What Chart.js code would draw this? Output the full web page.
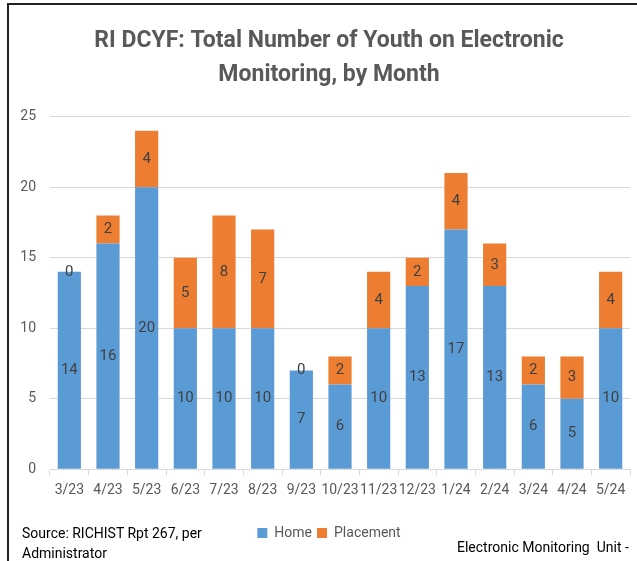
<!DOCTYPE html>
<html>
<head>
<meta charset="utf-8">
<script src="https://cdn.jsdelivr.net/npm/chart.js@4.4.0/dist/chart.umd.min.js"></script>
<style>
  html, body { margin: 0; padding: 0; background: #fff; }
  body { width: 637px; height: 561px; position: relative; overflow: hidden;
         font-family: Roboto, "Open Sans", sans-serif; color: #000; }
  #frame { position: absolute; left: 7px; top: 3px; width: 630px; height: 558px;
           border-left: 2px solid #222; border-top: 2px solid #222; box-sizing: border-box; }
  #wrap { position: absolute; left: 9px; top: 5px; width: 628px; height: 556px; }
  .note { position: absolute; font-size: 14px; line-height: 20px; color: #000; white-space: nowrap; }
</style>
</head>
<body>
<div id="frame"></div>
<div id="wrap"><canvas id="c"></canvas></div>
<div class="note" style="left:22px; top:523px;">Source: RICHIST Rpt 267, per<br>Administrator</div>
<div class="note" style="left:457px; top:537px;">Electronic Monitoring&nbsp; Unit -</div>
<script>
const months = ["3/23","4/23","5/23","6/23","7/23","8/23","9/23","10/23","11/23","12/23","1/24","2/24","3/24","4/24","5/24"];
const home = [14,16,20,10,10,10,7,6,10,13,17,13,6,5,10];
const placement = [0,2,4,5,8,7,0,2,4,2,4,3,2,3,4];
const yTicks = [0,5,10,15,20,25];
const titleLines = ["RI DCYF: Total Number of Youth on Electronic", "Monitoring, by Month"];

const FONT = "Roboto, 'Open Sans', sans-serif";

const labelPlugin = {
  id: 'segLabels',
  afterDatasetsDraw(chart) {
    const ctx = chart.ctx;
    ctx.save();
    ctx.font = "15px " + FONT;
    ctx.fillStyle = "#404040";
    ctx.textAlign = "center";
    ctx.textBaseline = "middle";
    chart.data.datasets.forEach((ds, i) => {
      const meta = chart.getDatasetMeta(i);
      meta.data.forEach((el, j) => {
        const p = el.getProps(['x','y','base'], true);
        ctx.fillText(String(ds.data[j]), p.x, (p.y + p.base) / 2);
      });
    });
    ctx.restore();
  }
};

// shift title and legend slightly right, as in the reference
const shiftPlugin = {
  id: 'shiftBlocks',
  afterLayout(chart) {
    const d = 9.5;
    [chart.titleBlock, chart.legend].forEach(b => {
      if (b) { b.left += d; b.right += d; }
    });
  }
};

new Chart(document.getElementById('c'), {
  type: 'bar',
  data: {
    labels: months,
    datasets: [
      { label: 'Home', data: home, backgroundColor: '#5B9BD5', barPercentage: 0.6, categoryPercentage: 1.0 },
      { label: 'Placement', data: placement, backgroundColor: '#ED7D31', barPercentage: 0.6, categoryPercentage: 1.0 }
    ]
  },
  options: {
    responsive: true,
    maintainAspectRatio: false,
    animation: false,
    layout: { padding: { top: 20, right: 7, bottom: 11, left: 0 } },
    plugins: {
      title: {
        display: true,
        text: titleLines,
        color: '#595959',
        font: { family: FONT, size: 23, weight: 'bold', lineHeight: 1.45 },
        padding: { top: 0, bottom: 25 }
      },
      legend: {
        position: 'bottom',
        labels: {
          color: '#595959',
          font: { family: FONT, size: 14 },
          boxWidth: 10, boxHeight: 10, padding: 5
        }
      },
      tooltip: { enabled: false }
    },
    scales: {
      x: {
        stacked: true,
        afterFit(axis) { axis.height += 15; },
        grid: { display: true, drawOnChartArea: false, drawTicks: true, tickLength: 6, color: '#d9d9d9' },
        border: { color: '#d9d9d9' },
        ticks: { color: '#595959', font: { family: FONT, size: 14 }, maxRotation: 0, autoSkip: false, padding: 7 }
      },
      y: {
        stacked: true,
        min: 0, max: 25,
        afterBuildTicks(axis) { axis.ticks = yTicks.map(v => ({ value: v })); },
        afterFit(axis) { axis.width = 41; },
        grid: { color: '#d9d9d9', drawTicks: false },
        border: { display: false },
        ticks: { color: '#595959', font: { family: FONT, size: 14 }, padding: 14 }
      }
    }
  },
  plugins: [labelPlugin, shiftPlugin]
});
</script>
</body>
</html>
